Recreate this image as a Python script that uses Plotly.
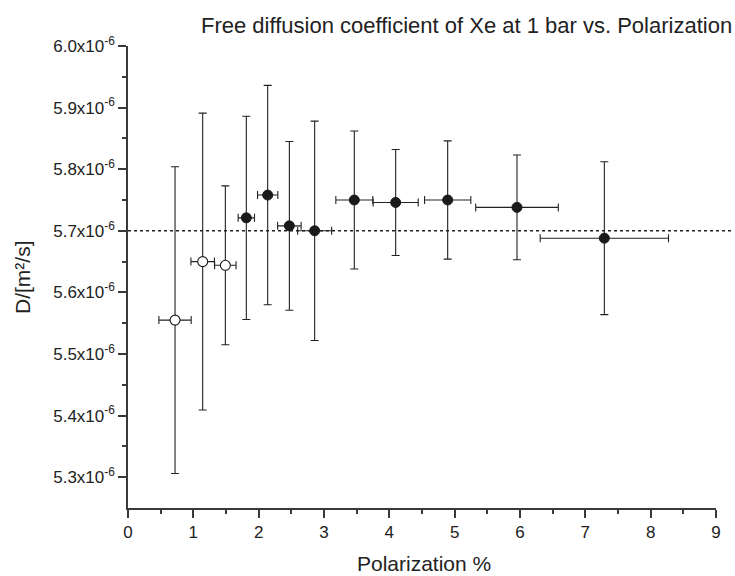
import plotly.graph_objects as go

# Values in units of 1e-6 m^2/s
open_pol = [0.72, 1.143, 1.49]
open_pol_err = [0.247, 0.18, 0.164]
open_D = [5.555, 5.650, 5.644]
open_D_err = [0.249, 0.241, 0.129]

fill_pol = [1.811, 2.138, 2.47, 2.857, 3.464, 4.097, 4.893, 5.954, 7.291]
fill_pol_err = [0.125, 0.155, 0.18, 0.26, 0.283, 0.345, 0.354, 0.632, 0.982]
fill_D = [5.721, 5.758, 5.708, 5.700, 5.750, 5.746, 5.750, 5.738, 5.688]
fill_D_err = [0.165, 0.178, 0.137, 0.178, 0.112, 0.086, 0.096, 0.085, 0.124]

ref_D = 5.7

y_ticks = [5.3, 5.4, 5.5, 5.6, 5.7, 5.8, 5.9, 6.0]
y_tick_text = [f"{v:.1f}x10<sup>-6</sup>" for v in y_ticks]
y_minor = [5.35, 5.45, 5.55, 5.65, 5.75, 5.85, 5.95]
x_ticks = list(range(0, 10))

FONT = "Liberation Sans, Arial, sans-serif"
INK = "#222222"
AXC = "#3a3a3a"

fig = go.Figure()

err_common = dict(type="data", symmetric=True, color=INK, thickness=1.1)

fig.add_trace(go.Scatter(
    x=fill_pol, y=fill_D, mode="markers",
    marker=dict(size=10, color="#1a1a1a", line=dict(color="#1a1a1a", width=1)),
    error_x=dict(array=fill_pol_err, width=4, **err_common),
    error_y=dict(array=fill_D_err, width=4, **err_common),
    showlegend=False,
))
fig.add_trace(go.Scatter(
    x=open_pol, y=open_D, mode="markers",
    marker=dict(size=10, color="white", line=dict(color="#1a1a1a", width=1.1)),
    error_x=dict(array=open_pol_err, width=4, **err_common),
    error_y=dict(array=open_D_err, width=4, **err_common),
    showlegend=False,
))

fig.add_shape(type="line", xref="paper", yref="y", x0=0, x1=1.029,
              y0=ref_D, y1=ref_D, layer="below",
              line=dict(color=INK, width=1.5, dash="dot"))

fig.update_layout(
    width=735, height=576,
    margin=dict(l=128, r=19, t=46, b=68),
    paper_bgcolor="white", plot_bgcolor="white",
    font=dict(family=FONT, color=INK, size=17),
    xaxis=dict(
        range=[0, 9], tickmode="array", tickvals=x_ticks,
        ticks="outside", ticklen=8, tickwidth=1.5, tickcolor=AXC,
        showline=True, linecolor=AXC, linewidth=1.5,
        showgrid=False, zeroline=False,
        tickfont=dict(size=17, color=INK),
        minor=dict(tickmode="linear", tick0=0.5, dtick=1, ticks="outside",
                   ticklen=4, tickwidth=1.5, tickcolor=AXC, showgrid=False),
    ),
    yaxis=dict(
        range=[5.25, 6.0], tickmode="array", tickvals=y_ticks, ticktext=y_tick_text,
        ticks="outside", ticklen=8, tickwidth=1.5, tickcolor=AXC,
        showline=True, linecolor=AXC, linewidth=1.5,
        showgrid=False, zeroline=False,
        tickfont=dict(size=17, color=INK),
        minor=dict(tickmode="array", tickvals=y_minor, ticks="outside",
                   ticklen=4, tickwidth=1.5, tickcolor=AXC, showgrid=False),
    ),
    annotations=[
        dict(text="Free diffusion coefficient of Xe at 1 bar vs. Polarization",
             xref="paper", yref="paper", x=(734 - 128) / 588, y=(508 - 25) / 462,
             xanchor="right", yanchor="middle", showarrow=False,
             font=dict(size=22, family=FONT, color=INK)),
        dict(text="Polarization %", xref="paper", yref="paper",
             x=(424 - 128) / 588, y=(508 - 563) / 462,
             xanchor="center", yanchor="middle", showarrow=False,
             font=dict(size=21, family=FONT, color=INK)),
        dict(text="D/[m²/s]", xref="paper", yref="paper",
             x=(22 - 128) / 588, y=0.5, textangle=-90,
             xanchor="center", yanchor="middle", showarrow=False,
             font=dict(size=21, family=FONT, color=INK)),
    ],
)

fig.write_html("out.html")
